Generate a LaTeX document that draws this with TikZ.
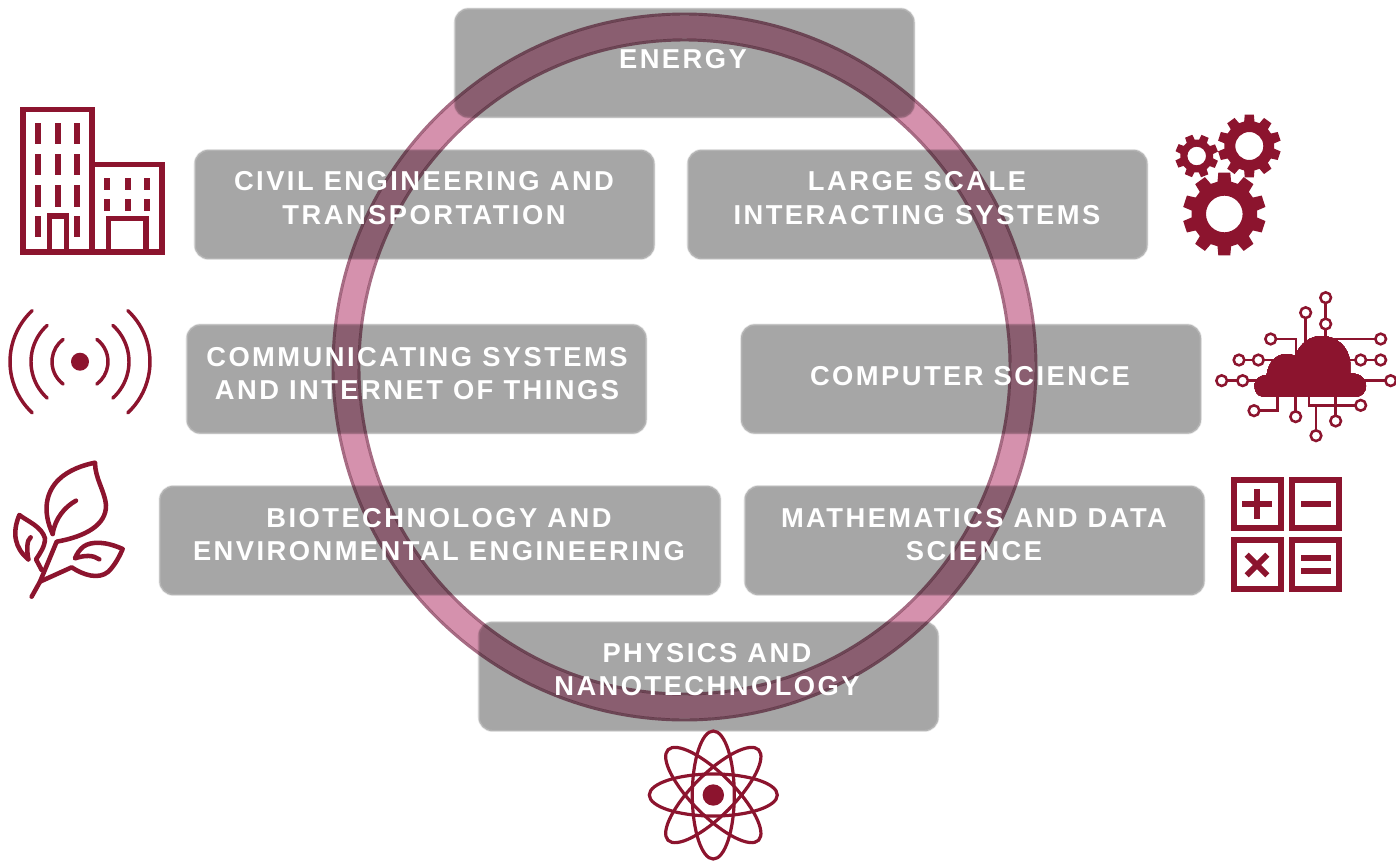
\documentclass[tikz,border=0pt]{standalone}
\usepackage{fontspec}
\setmainfont{Liberation Sans}[LetterSpace=9]
\usepackage{xcolor}
\definecolor{boxgray}{HTML}{A6A6A6}
\definecolor{boxblur}{HTML}{B4B4B4}
\definecolor{boxhalo}{HTML}{E6E6E6}
\definecolor{ringpink}{HTML}{D591AD}
\definecolor{ringedge}{HTML}{A66C84}
\definecolor{iconred}{HTML}{8C142E}
\tikzset{
  topicbox/.style={rectangle,rounded corners=10pt,fill=boxgray,draw=boxblur,line width=1pt,inner sep=0pt,outer sep=0pt,minimum height=81pt,
    preaction={draw=boxhalo,line width=2.2pt}},
  topiclabel/.style={text=white,font=\fontsize{20.5}{25}\selectfont\bfseries,align=center,inner sep=0pt},
  iconline/.style={draw=iconred,line width=2.6pt,line cap=round,line join=round},
  iconthin/.style={draw=iconred,line width=1.9pt},
  iconfill/.style={fill=iconred,draw=none}
}
\newcommand{\gearicon}[7]{%
\pgfmathsetmacro{\gearstep}{360/#6}
\pgfmathtruncatemacro{\gearlast}{#6-1}
\fill[iconfill,even odd rule,shift={(#1,#2)},rotate=#7]
({-0.33*\gearstep}:#3)
\foreach \k in {0,...,\gearlast}{
-- ({(\k-0.23)*\gearstep}:#4) -- ({(\k+0.23)*\gearstep}:#4)
-- ({(\k+0.33)*\gearstep}:#3) -- ({(\k+0.67)*\gearstep}:#3)}
-- cycle (0,0) circle (#5);
}
\newcommand{\chipdot}[2]{\draw[iconthin,fill=white] (#1,#2) circle (16);}
\begin{document}
\begin{tikzpicture}[x=0.75pt,y=-0.75pt]
\useasboundingbox (0,0) rectangle (1396,864);

\foreach \boxname/\cx/\cy/\w in {energy/684.5/63/344,civil/424.5/204.5/344,large/917.5/204.5/344,
communicating/416.5/379/344,computer/971/379/344,bio/440/540.5/420,maths/974.5/540.5/344,physics/708.5/676.5/344}
\node[topicbox,minimum width=\w pt] (\boxname) at (\cx,\cy) {};

\begin{scope}[blend mode=multiply]
\draw[ringpink,line width=17.6pt] (684.5,367) ellipse (338.5 and 340);
\draw[ringedge,line width=2.2pt] (684.5,367) ellipse (351.5 and 353);
\draw[ringedge,line width=2.2pt] (684.5,367) ellipse (325.5 and 327);
\end{scope}

\node[topiclabel] (energytext) at (683,59) {ENERGY};
\node[topiclabel] (civiltext) at (424,198) {CIVIL ENGINEERING AND\\TRANSPORTATION};
\node[topiclabel] (largetext) at (917,198) {LARGE SCALE\\INTERACTING SYSTEMS};
\node[topiclabel] (communicatingtext) at (417,373.5) {COMMUNICATING SYSTEMS\\AND INTERNET OF THINGS};
\node[topiclabel] (computertext) at (970,376) {COMPUTER SCIENCE};
\node[topiclabel] (biotext) at (439,534.5) {BIOTECHNOLOGY AND\\ENVIRONMENTAL ENGINEERING};
\node[topiclabel] (mathstext) at (974,534.5) {MATHEMATICS AND DATA\\SCIENCE};
\node[topiclabel] (physicstext) at (707,669.5) {PHYSICS AND\\NANOTECHNOLOGY};

\begin{scope}[shift={(0,90)},scale=1/3]
\draw[iconred,line width=4pt,line join=miter] (69,486) -- (69,59) -- (276,59) -- (276,224) -- (486,224) -- (486,486) -- cycle;
\draw[iconred,line width=4pt] (276,224) -- (276,486);
\draw[iconred,line width=4pt] (148,486) -- (148,378) -- (200,378) -- (200,486);
\draw[iconred,line width=4pt] (326,486) -- (326,386) -- (438,386) -- (438,486);
\foreach \wx in {113,174,232}
\foreach \wy in {98,192,286}
\fill[iconred] (\wx-9,\wy) rectangle (\wx+9,\wy+64);
\foreach \wx in {113,232}
\fill[iconred] (\wx-9,378) rectangle (\wx+9,442);
\foreach \wx in {322,383,441}
\foreach \wy in {263,327}
\fill[iconred] (\wx-9,\wy) rectangle (\wx+9,\wy+37);
\end{scope}

\fill[iconfill] (80,361.7) circle (9);
\foreach \r/\a in {28/53,49/48,70/47}{
\draw[iconline] (80,361.7) ++ ({180-\a}:\r) arc ({180-\a}:{180+\a}:\r);
\draw[iconline] (80,361.7) ++ ({-\a}:\r) arc ({-\a}:{\a}:\r);
}

\begin{scope}[shift={(0,450)},scale=1/3]
\draw[iconline,line width=3.4pt]
(158,252) .. controls (125,180) and (140,125) .. (175,90) .. controls (205,60) and (250,45) .. (285,38)
.. controls (285,85) and (315,125) .. (318,165) .. controls (320,225) and (255,260) .. (170,275)
-- (120,395) -- (95,440);
\draw[iconline,line width=3.4pt] (158,252) .. controls (165,205) and (195,170) .. (228,152);
\draw[iconline,line width=3.4pt] (120,395) -- (215,352) .. controls (250,375) and (295,390) .. (325,365) .. controls (345,345) and (358,320) .. (368,297)
.. controls (320,275) and (275,272) .. (250,290) .. controls (238,300) and (230,312) .. (225,325) .. controls (255,315) and (280,315) .. (298,328);
\draw[iconline,line width=3.4pt] (85,328) .. controls (45,295) and (35,250) .. (58,195) .. controls (85,215) and (125,230) .. (135,265) .. controls (135,290) and (120,310) .. (108,328) -- (125,360);
\draw[iconline,line width=3.4pt] (85,328) .. controls (80,300) and (80,270) .. (92,262);
\end{scope}

\gearicon{1196.7}{156}{16.5}{21.7}{9.3}{8}{22}
\gearicon{1249.3}{146}{25}{31.7}{14}{10}{90}
\gearicon{1224.3}{214}{33}{41.7}{18.3}{10}{90}

\begin{scope}[shift={(1160,100)},scale=1/3]
\draw[iconthin] (497,593) -- (497,710);
\draw[iconthin] (437,638) -- (437,730);
\draw[iconthin] (332,717) -- (408,717) -- (408,770);
\draw[iconthin] (662,717) -- (510,717);
\draw[iconthin] (237,780) -- (340,780);
\draw[iconthin] (662,780) -- (560,780);
\draw[iconthin] (185,842) -- (295,842);
\draw[iconthin] (692,842) -- (610,842);
\draw[iconthin] (282,932) -- (353,932) -- (353,885);
\draw[iconthin] (407,950) -- (407,885);
\draw[iconthin] (468,1007) -- (468,918);
\draw[iconthin] (602,916) -- (447,916) -- (447,885);
\draw[iconthin] (527,963) -- (527,885);
\foreach \dx/\dy in {497/593,497/672,437/638,332/717,662/717,237/780,295/780,602/780,662/780,185/842,248/842,692/842,282/932,407/950,468/1007,527/963,602/916}
\chipdot{\dx}{\dy}
\fill[iconfill] (310,890) .. controls (290,890) and (282,870) .. (284,852) .. controls (286,835) and (305,825) .. (320,825)
.. controls (325,785) and (350,762) .. (380,762) .. controls (390,762) and (400,765) .. (405,768)
.. controls (420,730) and (450,708) .. (485,708) .. controls (530,708) and (565,740) .. (570,785) -- (570,820)
.. controls (600,820) and (618,835) .. (618,858) .. controls (618,875) and (605,890) .. (590,890) -- cycle;
\end{scope}

\begin{scope}[shift={(1210,460)},scale=1/3]
\foreach \sx/\sy in {71/59,247/59,71/241,247/241}
\draw[iconred,line width=4.4pt] (\sx,\sy) rectangle ++(141,145);
\draw[iconred,line width=4.4pt] (96,132) -- (186,132) (141,87) -- (141,177);
\draw[iconred,line width=4.4pt] (274,132) -- (362,132);
\draw[iconred,line width=4.4pt] (110,284) -- (172,346) (172,284) -- (110,346);
\draw[iconred,line width=4.4pt] (274,295) -- (362,295) (274,332) -- (362,332);
\end{scope}

\begin{scope}[shift={(713.3,795)}]
\fill[iconfill] (0,0) circle (10.7);
\foreach \ang in {0,45,90,135}
\draw[iconred,line width=2.4pt,rotate=\ang] (0,0) ellipse (64 and 21);
\end{scope}
\end{tikzpicture}
\end{document}
